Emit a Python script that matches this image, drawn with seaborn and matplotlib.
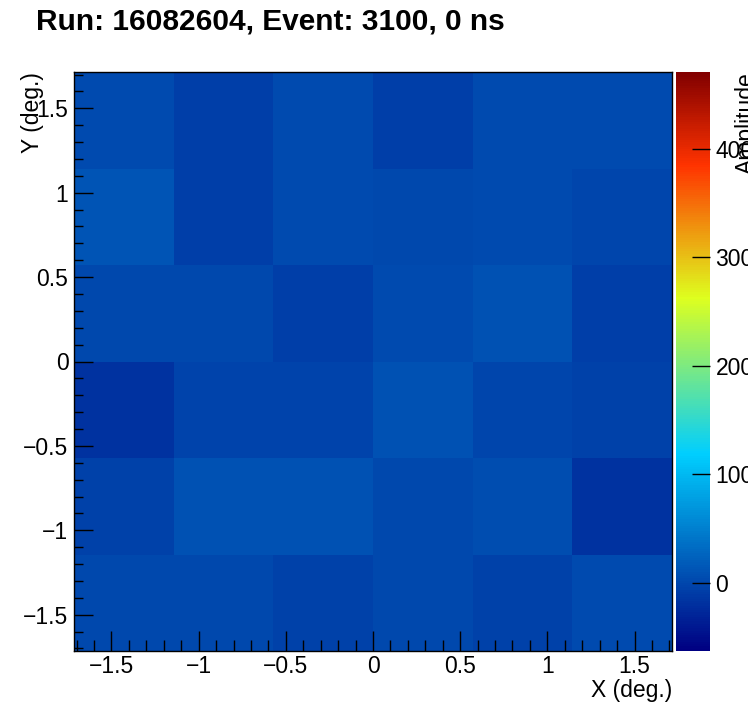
import numpy as np
import pandas as pd
import matplotlib
matplotlib.use('Agg')
import matplotlib.pyplot as plt
from matplotlib.colors import LinearSegmentedColormap
import seaborn as sns

# bin centres in degrees (6x6 camera pixels)
x_centers = [-1.429, -0.858, -0.286, 0.286, 0.858, 1.429]
y_centers = [1.429, 0.858, 0.286, -0.286, -0.858, -1.429]  # top row first

# amplitudes, rows from top (y high) to bottom
row_1 = [3, -7, 3, -7, 3, 3]
row_2 = [11.5, -7, 4, 1, 3, -1.5]
row_3 = [0, 1, -7, 2, 9, -7]
row_4 = [-18, -2.5, -2.5, 9, -1.5, -5]
row_5 = [-5, 9, 9, 0, 5, -17]
row_6 = [0, 0, -5, 0, -5, 2]

z_min, z_max = -63, 471
half = 1.715
bw = 2 * half / 6

plt.rcParams['font.family'] = ['Liberation Sans', 'DejaVu Sans']
plt.rcParams['text.color'] = 'black'

df = pd.DataFrame([row_1, row_2, row_3, row_4, row_5, row_6],
                  index=y_centers, columns=x_centers)

# classic ROOT "pretty" palette
stops = [0.00, 0.34, 0.61, 0.84, 1.00]
red = [0.00, 0.00, 0.87, 1.00, 0.51]
green = [0.00, 0.81, 1.00, 0.20, 0.00]
blue = [0.51, 1.00, 0.12, 0.00, 0.00]
cmap = LinearSegmentedColormap.from_list(
    'root', list(zip(stops, zip(red, green, blue))), N=255)

fig = plt.figure(figsize=(7.48, 7.24), dpi=100)
ax = fig.add_axes([74 / 748, 1 - 651 / 724, 598 / 748, 579 / 724])
cax = fig.add_axes([676 / 748, 1 - 651 / 724, 34 / 748, 579 / 724])

sns.heatmap(df, ax=ax, cbar_ax=cax, cmap=cmap, vmin=z_min, vmax=z_max,
            xticklabels=False, yticklabels=False)
ax.set_axisbelow(False)
cax.set_axisbelow(False)

# map degree ticks onto heatmap cell coordinates
major = np.array([-1.5, -1, -0.5, 0, 0.5, 1, 1.5])
minor = np.round(np.arange(-1.7, 1.71, 0.1), 2)
minor = np.array([m for m in minor if not np.isclose(m, major).any()])
labels = ['\u22121.5', '\u22121', '\u22120.5', '0', '0.5', '1', '1.5']

ax.set_xticks((major + half) / bw)
ax.set_xticklabels(labels)
ax.set_xticks((minor + half) / bw, minor=True)
ax.set_yticks((half - major) / bw)
ax.set_yticklabels(labels, rotation=0)
ax.set_yticks((half - minor) / bw, minor=True)

for s in ax.spines.values():
    s.set_visible(True)
    s.set_color('black')
    s.set_linewidth(1)

ax.tick_params(which='both', direction='in', top=False, right=False,
               bottom=True, left=True, width=1, color='black',
               labelcolor='black')
ax.tick_params(which='major', labelsize=16.5)
ax.tick_params(axis='x', which='major', length=14.4, pad=3)
ax.tick_params(axis='y', which='major', length=13.5, pad=4)
ax.tick_params(axis='x', which='minor', length=7.7)
ax.tick_params(axis='y', which='minor', length=6.8)

ax.set_xlabel('')
ax.set_ylabel('')
fig.text(672 / 748, 1 - 690 / 724, 'X (deg.)', ha='right', va='center',
         fontsize=16.5)
fig.text(33 / 748, 1 - 72 / 724, 'Y (deg.)', ha='center', va='top',
         rotation=90, fontsize=16.5)

cax.set_yticks([0, 100, 200, 300, 400])
cax.set_yticklabels(['0', '100', '200', '300', '400'])
cax.tick_params(direction='in', length=13, width=1, labelsize=16.5,
                right=True, left=False, pad=4, color='black',
                labelcolor='black')
for s in cax.spines.values():
    s.set_visible(False)
fig.text(746 / 748, 1 - 72 / 724, 'Amplitude', ha='center', va='top',
         rotation=90, fontsize=16.5)

fig.text(36 / 748, 1 - 22 / 724, 'Run: 16082604, Event: 3100, 0 ns',
         ha='left', va='center', fontsize=21.5, fontweight='bold')

fig.savefig('out.png', dpi=100, facecolor='white')
